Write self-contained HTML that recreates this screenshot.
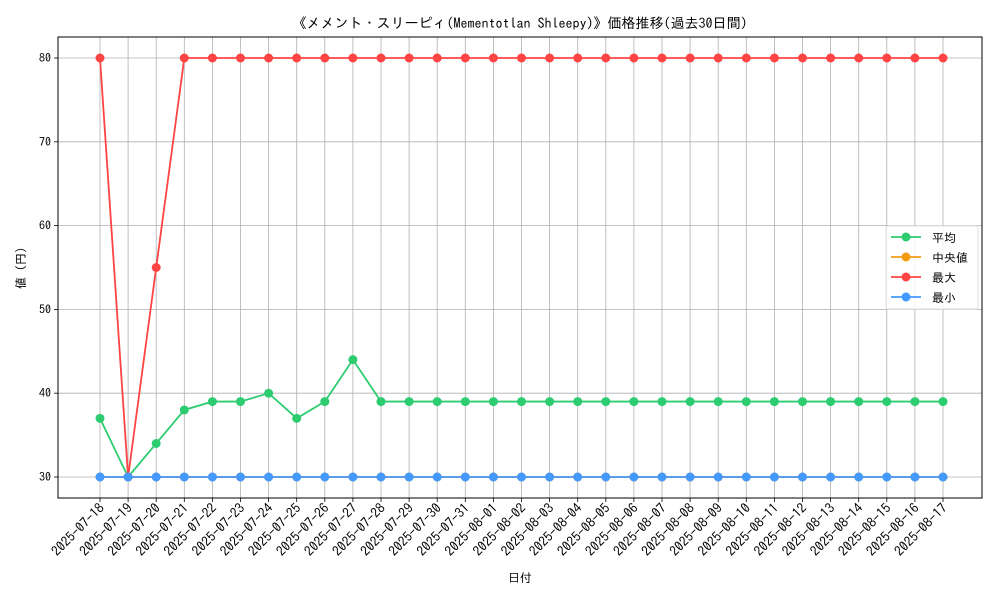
<!DOCTYPE html>
<html><head><meta charset="utf-8"><style>
body{margin:0;background:#fff}
svg{display:block;font-family:"IPAGothic","Liberation Sans","Noto Sans CJK JP",sans-serif}
</style></head><body>
<svg id="chart" width="1000" height="600" xmlns="http://www.w3.org/2000/svg">
<text x="520" y="28" font-size="14" text-anchor="middle">《メメント・スリーピィ(Mementotlan Shleepy)》価格推移(過去30日間)</text>
<g id="grid"></g><g id="series"></g><g id="axes"></g>
<text x="520" y="582" font-size="12" text-anchor="middle">日付</text>
<text transform="translate(25,268) rotate(-90)" font-size="12" text-anchor="middle">値 (円)</text>
<g id="legend"></g>
</svg>
<script>
const categories = ["2025-07-18","2025-07-19","2025-07-20","2025-07-21","2025-07-22","2025-07-23","2025-07-24","2025-07-25","2025-07-26","2025-07-27","2025-07-28","2025-07-29","2025-07-30","2025-07-31","2025-08-01","2025-08-02","2025-08-03","2025-08-04","2025-08-05","2025-08-06","2025-08-07","2025-08-08","2025-08-09","2025-08-10","2025-08-11","2025-08-12","2025-08-13","2025-08-14","2025-08-15","2025-08-16","2025-08-17"];
const avgValues = [37,30,34,38,39,39,40,37,39,44,39,39,39,39,39,39,39,39,39,39,39,39,39,39,39,39,39,39,39,39,39];
const medianValues = [30,30,30,30,30,30,30,30,30,30,30,30,30,30,30,30,30,30,30,30,30,30,30,30,30,30,30,30,30,30,30];
const maxValues = [80,30,55,80,80,80,80,80,80,80,80,80,80,80,80,80,80,80,80,80,80,80,80,80,80,80,80,80,80,80,80];
const minValues = [30,30,30,30,30,30,30,30,30,30,30,30,30,30,30,30,30,30,30,30,30,30,30,30,30,30,30,30,30,30,30];
const yTicks = [30,40,50,60,70,80];
const seriesNames = ["平均","中央値","最大","最小"];

const NS="http://www.w3.org/2000/svg";
const L=58,R=982,T=37,B=498;
const x0=100,x1=943;
function xs(i){return x0+(x1-x0)*i/(categories.length-1);}
function ys(v){return 477+(v-30)*(58-477)/50;}
function mk(tag,attrs,parent){const e=document.createElementNS(NS,tag);for(const k in attrs)e.setAttribute(k,attrs[k]);parent.appendChild(e);return e;}
const grid=document.getElementById('grid'),axes=document.getElementById('axes'),ser=document.getElementById('series'),leg=document.getElementById('legend');
categories.forEach((c,i)=>{
  const g=mk('line',{x1:xs(i),x2:xs(i),y1:T,y2:B,stroke:'#b0b0b0','stroke-width':0.8},grid);
  
  
  const t=mk('line',{x1:xs(i),x2:xs(i),y1:B,y2:B+4,stroke:'#000','stroke-width':0.8},axes);
  
  
  const lb=mk('text',{transform:`translate(${xs(i)+5},${B+11}) rotate(-45)`,'font-size':13.5,'text-anchor':'end'},axes);
  lb.textContent=c;
  
  
});
yTicks.forEach(v=>{
  const g=mk('line',{x1:L,x2:R,y1:ys(v),y2:ys(v),stroke:'#b0b0b0','stroke-width':0.8},grid);
  
  
  const t=mk('line',{x1:L-4,x2:L,y1:ys(v),y2:ys(v),stroke:'#000','stroke-width':0.8},axes);
  
  
  const lb=mk('text',{x:L-7,y:ys(v)+4,'font-size':12,'text-anchor':'end'},axes);
  lb.textContent=v;
  
  
});
const frame=mk('rect',{x:L,y:T,width:R-L,height:B-T,fill:'none',stroke:'#000','stroke-width':1},axes);


const allSeries=[avgValues,medianValues,maxValues,minValues];
const colors=['#2ecc71','#f39c12','#ff4444','#4499ff'];
const keys=['average','median','max','min'];
allSeries.forEach((vals,s)=>{
  const g=mk('g',{},ser);
  
  
  const pl=mk('polyline',{points:vals.map((v,i)=>xs(i)+','+ys(v)).join(' '),fill:'none',stroke:colors[s],'stroke-width':1.8},g);
  
  
  vals.forEach((v,i)=>{
    const c=mk('circle',{cx:xs(i),cy:ys(v),r:4.5,fill:colors[s]},g);
    
    
  });
});
mk('rect',{x:886,y:226,width:92,height:83,fill:'#fff','fill-opacity':0.85,stroke:'#ddd',rx:2},leg);
seriesNames.forEach((n,s)=>{
  const y=237+s*20;
  const e=mk('g',{},leg);
  
  
  mk('line',{x1:891,x2:921,y1:y,y2:y,stroke:colors[s],'stroke-width':1.8},e);
  mk('circle',{cx:906,cy:y,r:4.5,fill:colors[s]},e);
  const t=mk('text',{x:932,y:y+5,'font-size':12},e);
  t.textContent=n;
});
</script>
</body></html>
